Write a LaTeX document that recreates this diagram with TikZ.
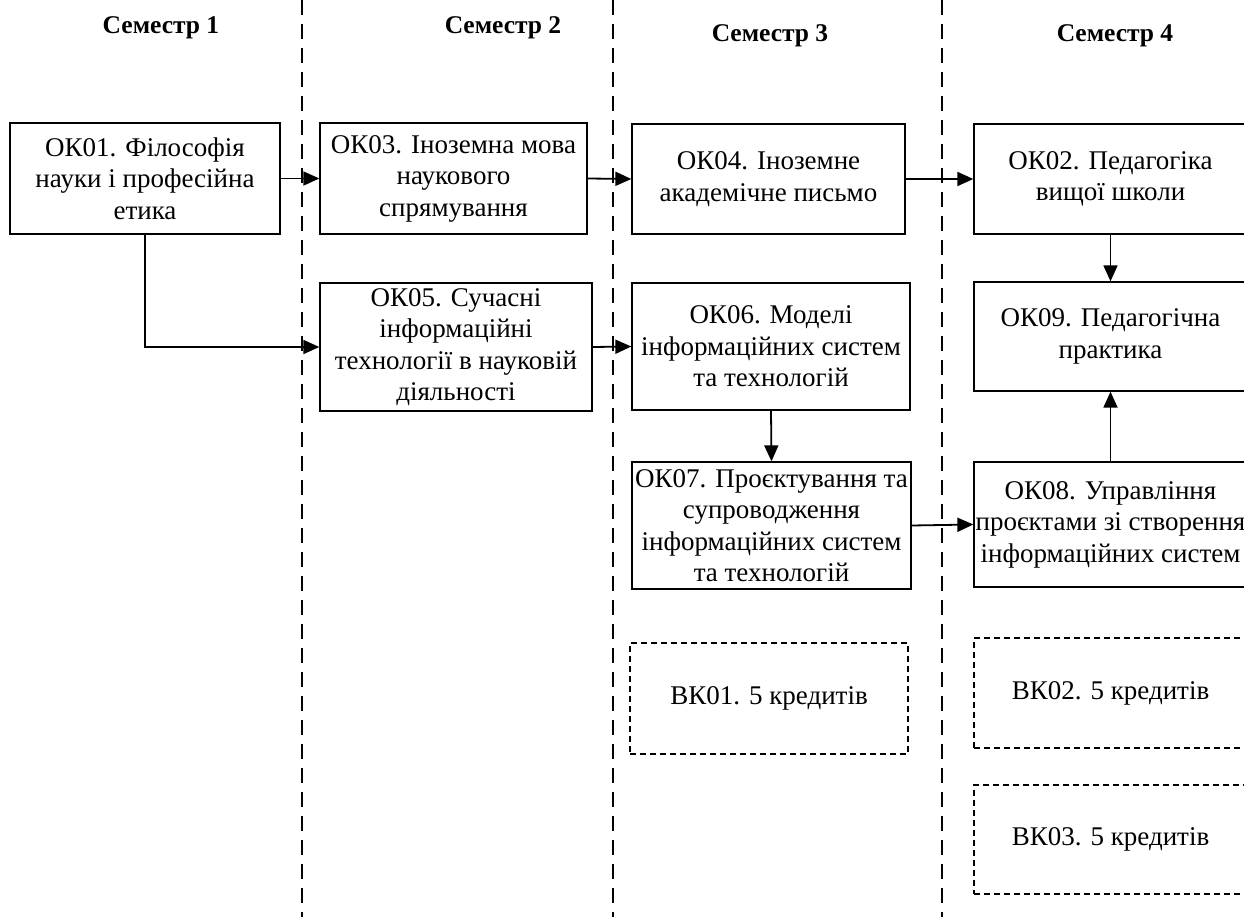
\documentclass[tikz,border=0pt]{standalone}
\usepackage{fontspec}
\setmainfont{Liberation Serif}
\usetikzlibrary{arrows.meta}
\begin{document}
\begin{tikzpicture}[x=1pt,y=-1pt,
  box/.style={draw, line width=1.3pt, inner sep=0pt, align=center,
    font=\fontsize{27}{31.5}\selectfont},
  vkbox/.style={box, dashed, dash pattern=on 6pt off 4pt, line width=1.1pt},
  arr/.style={line width=1.8pt, -{Triangle[length=16pt,width=14pt]}},
  sem/.style={font=\fontsize{25.5}{30}\selectfont\bfseries},
  divider/.style={line width=2pt, dash pattern=on 15pt off 9pt}]
\clip (0,0) rectangle (1244,917);
\fill[white] (0,0) rectangle (1244,917);
% dividers
\coordinate (d1t) at (302,0); \coordinate (d1b) at (302,917);
\coordinate (d2t) at (613,0); \coordinate (d2b) at (613,917);
\coordinate (d3t) at (942,0); \coordinate (d3b) at (942,917);
\draw[divider] (d1t) -- (d1b);
\draw[divider] (d2t) -- (d2b);
\draw[divider] (d3t) -- (d3b);
% headers
\node[sem] (s1) at (161,28) {Семестр 1};
\node[sem] (s2) at (503,28) {Семестр 2};
\node[sem] (s3) at (770,36) {Семестр 3};
\node[sem] (s4) at (1115,36) {Семестр 4};
% boxes
\node[box, minimum width=270pt, minimum height=111pt] (ok01) at (145,178.5) {ОК01. Філософія\\науки і професійна\\етика};
\node[box, minimum width=267pt, minimum height=111pt] (ok03) at (453.5,178.5) {ОК03. Іноземна мова\\наукового\\спрямування};
\node[box, minimum width=273pt, minimum height=110pt] (ok04) at (768.5,179) {ОК04. Іноземне\\академічне письмо};
\node[box, minimum width=273pt, minimum height=110pt] (ok02) at (1110.5,179) {ОК02. Педагогіка\\вищої школи};
\node[box, minimum width=272pt, minimum height=128pt] (ok05) at (456,347) {ОК05. Сучасні\\інформаційні\\технології в науковій\\діяльності};
\node[box, minimum width=278pt, minimum height=127pt] (ok06) at (771,346.5) {ОК06. Моделі\\інформаційних систем\\та технологій};
\node[box, minimum width=273pt, minimum height=109pt] (ok09) at (1110.5,336.5) {ОК09. Педагогічна\\практика};
\node[box, minimum width=279pt, minimum height=127pt] (ok07) at (771.5,525.5) {ОК07. Проєктування та\\супроводження\\інформаційних систем\\та технологій};
\node[box, minimum width=273pt, minimum height=125pt] (ok08) at (1110.5,524.5) {ОК08. Управління\\проєктами зі створення\\інформаційних систем};
\node[vkbox, minimum width=278pt, minimum height=111pt] (vk01) at (769,698.5) {ВК01. 5 кредитів};
\node[vkbox, minimum width=273pt, minimum height=110pt] (vk02) at (1110.5,693) {ВК02. 5 кредитів};
\node[vkbox, minimum width=273pt, minimum height=109pt] (vk03) at (1110.5,839.5) {ВК03. 5 кредитів};
% connectors
\draw[arr] (ok01.east) -- (ok03.west);
\draw[arr] (ok03.east) -- (ok04.west);
\draw[arr] (ok04.east) -- (ok02.west);
\draw[arr] (ok01.south) |- (ok05.west);
\draw[arr] (ok05.east) -- (ok06.west);
\draw[arr] (ok06.south) -- (ok07.north);
\draw[arr] (ok07.east) -- (ok08.west);
\draw[arr] (ok02.south) -- (ok09.north);
\draw[arr] (ok08.north) -- (ok09.south);
\end{tikzpicture}
\end{document}
